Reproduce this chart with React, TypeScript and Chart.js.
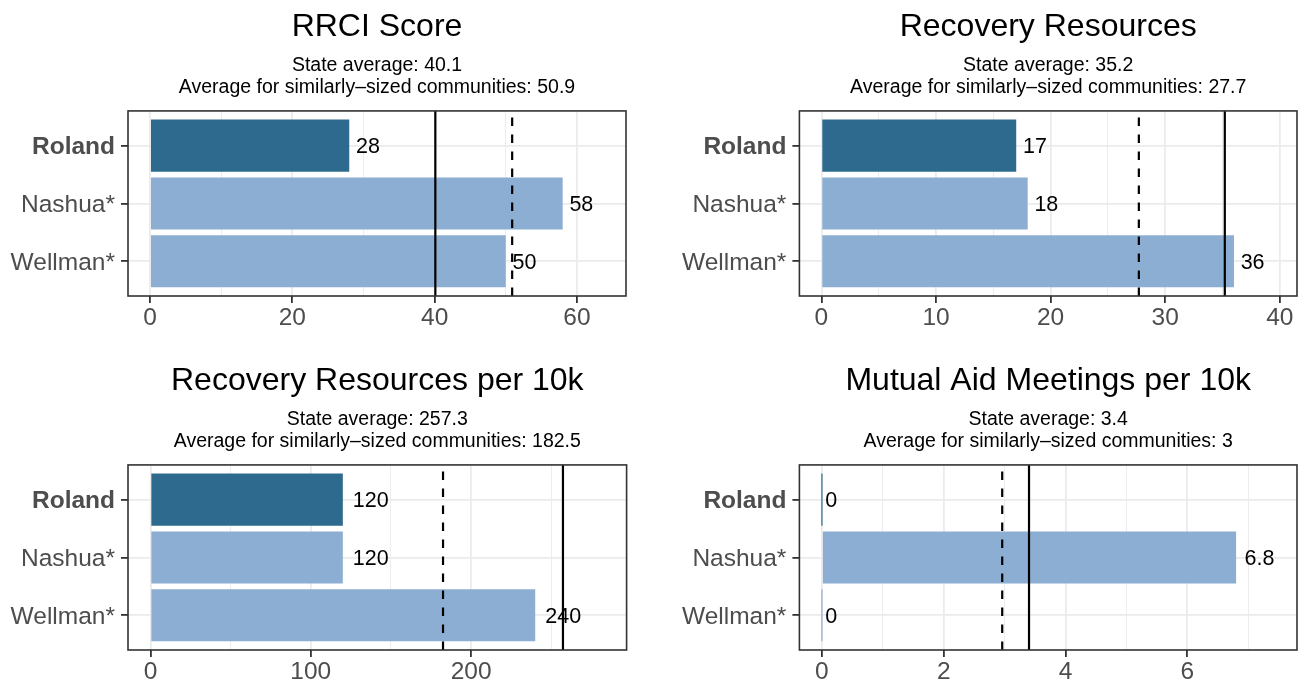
import { useEffect, useRef } from 'react';
import { Chart, registerables } from 'chart.js';

Chart.register(...registerables);

const FONT = "'Liberation Sans', Arial, Helvetica, sans-serif";

// ---- data ----
const communities = ['Roland', 'Nashua*', 'Wellman*'];
const highlightCommunity = 'Roland';

const panelTitles = ['RRCI Score', 'Recovery Resources', 'Recovery Resources per 10k', 'Mutual Aid Meetings per 10k'];

const rrciScore = [28, 58, 50];
const recoveryResources = [17, 18, 36];
const recoveryResourcesPer10k = [120, 120, 240];
const mutualAidMeetingsPer10k = [0, 6.8, 0];

const stateAverage = [40.1, 35.2, 257.3, 3.4];
const similarAverage = [50.9, 27.7, 182.5, 2.96];
const similarAverageText = ['50.9', '27.7', '182.5', '3'];

const rrciTicks = [0, 20, 40, 60];
const rrciMinorTicks = [10, 30, 50];
const resourcesTicks = [0, 10, 20, 30, 40];
const resourcesMinorTicks = [5, 15, 25, 35];
const per10kTicks = [0, 100, 200];
const per10kMinorTicks = [50, 150, 250];
const meetingsTicks = [0, 2, 4, 6];
const meetingsMinorTicks = [1, 3, 5, 7];

const xRanges = [
  [-3.1, 66.9],
  [-1.92, 41.5],
  [-14, 297],
  [-0.37, 7.8],
];

// ---- styles ----
const DARK = '#2E6A8E';
const LIGHT = '#8CAED2';
const GRID = '#EBEBEB';
const FRAME = '#333333';
const TICK_TEXT = '#4D4D4D';

type Panel = {
  idx: number;
  values: number[];
  ticks: number[];
  minor: number[];
  left: number;
  top: number;
  width: number;
  plotLeft: number;
  padRight: number;
};

const PANEL_H = 340;

const panels: Panel[] = [
  { idx: 0, values: rrciScore, ticks: rrciTicks, minor: rrciMinorTicks, left: 0, top: 0, width: 650, plotLeft: 128, padRight: 24 },
  { idx: 1, values: recoveryResources, ticks: resourcesTicks, minor: resourcesMinorTicks, left: 650, top: 0, width: 651, plotLeft: 149.4, padRight: 4 },
  { idx: 2, values: recoveryResourcesPer10k, ticks: per10kTicks, minor: per10kMinorTicks, left: 0, top: 354, width: 650, plotLeft: 128, padRight: 23.4 },
  { idx: 3, values: mutualAidMeetingsPer10k, ticks: meetingsTicks, minor: meetingsMinorTicks, left: 650, top: 354, width: 651, plotLeft: 149.4, padRight: 4 },
];

const overlayPlugin = {
  id: 'overlay',
  afterDatasetsDraw(chart: any, _args: any, opts: any) {
    const { ctx, chartArea: a } = chart;
    const x = chart.scales.x;
    const y = chart.scales.y;
    ctx.save();
    ctx.beginPath();
    ctx.rect(a.left, a.top, a.right - a.left, a.bottom - a.top);
    ctx.clip();
    ctx.strokeStyle = '#000000';
    ctx.lineWidth = 2.2;
    const xs = x.getPixelForValue(opts.state);
    ctx.beginPath();
    ctx.moveTo(xs, a.bottom);
    ctx.lineTo(xs, a.top);
    ctx.stroke();
    ctx.setLineDash([8.5, 8.5]);
    const xd = x.getPixelForValue(opts.similar);
    ctx.beginPath();
    ctx.moveTo(xd, a.bottom);
    ctx.lineTo(xd, a.top);
    ctx.stroke();
    ctx.setLineDash([]);
    ctx.restore();

    ctx.save();
    ctx.font = `21.5px ${FONT}`;
    ctx.fillStyle = '#000000';
    ctx.textBaseline = 'middle';
    ctx.textAlign = 'left';
    (opts.values as number[]).forEach((v, i) => {
      const t = String(v);
      const w = ctx.measureText(t).width;
      ctx.fillText(t, x.getPixelForValue(v) + 0.28 * w, y.getPixelForValue(i) + 1.8);
    });
    ctx.restore();
  },
  afterDraw(chart: any) {
    const { ctx, chartArea: a } = chart;
    ctx.save();
    ctx.strokeStyle = FRAME;
    ctx.lineWidth = 1.6;
    ctx.strokeRect(a.left, a.top, a.right - a.left, a.bottom - a.top);
    ctx.restore();
  },
};

function PanelChart({ p }: { p: Panel }) {
  const ref = useRef<HTMLCanvasElement | null>(null);
  useEffect(() => {
    if (!ref.current) return;
    const allTicks = [...p.ticks, ...p.minor].sort((a, b) => a - b);
    const isMajor = (v: number) => p.ticks.includes(v);
    const chart = new Chart(ref.current, {
      type: 'bar',
      data: {
        datasets: [
          {
            data: p.values.map((v, i) => ({ x: v, y: i })),
            backgroundColor: communities.map((c) => (c === highlightCommunity ? DARK : LIGHT)),
            borderWidth: 0,
            borderColor: 'rgba(0,0,0,0)',
            barPercentage: 0.9,
            categoryPercentage: 1,
            minBarLength: 1.2,
          } as any,
        ],
      },
      options: {
        indexAxis: 'y',
        responsive: false,
        animation: false,
        events: [],
        devicePixelRatio: 1,
        layout: { padding: { top: 0, left: 0, bottom: 0, right: p.padRight } },
        scales: {
          x: {
            type: 'linear',
            min: xRanges[p.idx][0],
            max: xRanges[p.idx][1],
            offset: false,
            afterBuildTicks: (s: any) => {
              s.ticks = allTicks.map((v) => ({ value: v }));
            },
            afterFit: (s: any) => {
              s.height = 44;
            },
            border: { display: false },
            grid: {
              offset: false,
              color: GRID,
              lineWidth: (c: any) => (c.tick && isMajor(c.tick.value) ? 1.8 : 0.9),
              tickColor: (c: any) => (c.tick && isMajor(c.tick.value) ? FRAME : 'rgba(0,0,0,0)'),
              tickLength: 7,
              tickWidth: 1.8,
            } as any,
            ticks: {
              autoSkip: false,
              maxRotation: 0,
              padding: 1,
              color: TICK_TEXT,
              font: { family: FONT, size: 24.5, lineHeight: 1.2 },
              callback: (v: any) => (isMajor(Number(v)) ? String(v) : ''),
            },
          },
          y: {
            type: 'linear',
            min: -0.6,
            max: 2.6,
            reverse: true,
            offset: false,
            afterBuildTicks: (s: any) => {
              s.ticks = communities.map((_, i) => ({ value: i }));
            },
            afterFit: (s: any) => {
              s.width = p.plotLeft;
            },
            border: { display: false },
            grid: {
              offset: false,
              color: GRID,
              lineWidth: 1.8,
              tickColor: FRAME,
              tickLength: 7,
              tickWidth: 1.8,
            } as any,
            ticks: {
              autoSkip: false,
              padding: 6,
              labelOffset: 2,
              color: TICK_TEXT,
              font: (c: any) => ({
                family: FONT,
                size: 24.5,
                lineHeight: 1.2,
                weight: c.tick && communities[c.tick.value] === highlightCommunity ? 'bold' : 'normal',
              }),
              callback: (v: any) => communities[Number(v)] ?? '',
            },
          },
        },
        plugins: {
          legend: { display: false },
          tooltip: { enabled: false },
          title: {
            display: true,
            text: panelTitles[p.idx],
            fullSize: false,
            color: '#000000',
            font: { family: FONT, size: 32, weight: 'normal', lineHeight: 1.2 },
            padding: { top: 7.5, bottom: 0 },
          },
          subtitle: {
            display: true,
            text: [
              `State average: ${stateAverage[p.idx]}`,
              `Average for similarly\u2013sized communities: ${similarAverageText[p.idx]}`,
            ],
            fullSize: false,
            color: '#000000',
            font: { family: FONT, size: 19.5, weight: 'normal', lineHeight: 1.17 },
            padding: { top: 8, bottom: 11.4 },
          },
          overlay: {
            state: stateAverage[p.idx],
            similar: similarAverage[p.idx],
            values: p.values,
          },
        } as any,
      },
      plugins: [overlayPlugin],
    } as any);
    return () => chart.destroy();
  }, [p]);
  return (
    <canvas
      ref={ref}
      width={p.width}
      height={PANEL_H}
      style={{ position: 'absolute', left: p.left, top: p.top, width: p.width, height: PANEL_H }}
    />
  );
}

export default function App() {
  return (
    <div
      style={{
        position: 'fixed',
        left: 0,
        top: 0,
        width: 1301,
        height: 683,
        overflow: 'hidden',
        background: '#ffffff',
      }}
    >
      {panels.map((p) => (
        <PanelChart key={p.idx} p={p} />
      ))}
    </div>
  );
}
